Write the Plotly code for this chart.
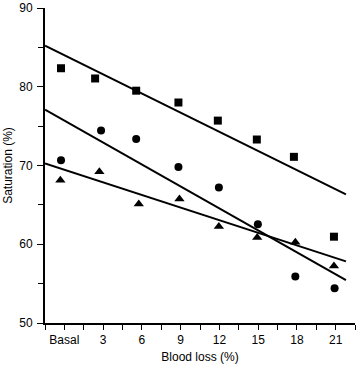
import plotly.graph_objects as go

# Category positions (blood loss %, Basal = 0)
tick_vals = [0, 3, 6, 9, 12, 15, 18, 21]
tick_text = ["Basal", "3", "6", "9", "12", "15", "18", "21"]

sq_x = [-0.26, 2.38, 5.56, 8.83, 11.88, 14.90, 17.77, 20.87]
sq_y = [82.35, 81.05, 79.5, 78.0, 75.7, 73.3, 71.1, 60.96]

ci_x = [-0.26, 2.84, 5.56, 8.83, 11.96, 14.98, 17.88, 20.92]
ci_y = [70.67, 74.45, 73.35, 69.8, 67.2, 62.55, 55.9, 54.4]

tr_x = [-0.31, 2.71, 5.76, 8.91, 11.96, 14.93, 17.88, 20.87]
tr_y = [68.14, 69.2, 65.1, 65.75, 62.26, 60.87, 60.24, 57.25]

# Regression lines: intercept at Basal and slope per % blood loss
fit_intercepts = [84.0, 75.7, 69.45]
fit_slopes = [-0.81, -0.929, -0.533]
fit_x_range = [-1.5, 21.8]

fig = go.Figure()

for b, m in zip(fit_intercepts, fit_slopes):
    fig.add_trace(go.Scatter(
        x=fit_x_range, y=[b + m * x for x in fit_x_range],
        mode="lines", line=dict(color="black", width=2),
        showlegend=False, hoverinfo="skip"))

fig.add_trace(go.Scatter(x=sq_x, y=sq_y, mode="markers",
                         marker=dict(symbol="square", size=8, color="black"),
                         showlegend=False))
fig.add_trace(go.Scatter(x=ci_x, y=ci_y, mode="markers",
                         marker=dict(symbol="circle", size=8, color="black"),
                         showlegend=False))
fig.add_trace(go.Scatter(x=tr_x, y=tr_y, mode="markers",
                         marker=dict(symbol="triangle-up", size=9, color="black"),
                         showlegend=False))

font = "Liberation Sans, Arial, sans-serif"
minor_x = [-1.5 + 3 * i for i in range(9)]

fig.update_layout(
    width=356, height=366,
    margin=dict(l=45, r=1, t=5, b=43),
    paper_bgcolor="white", plot_bgcolor="white",
    font=dict(family=font, size=12, color="black"),
    xaxis=dict(
        range=[-1.5, 22.5], tickvals=tick_vals, ticktext=tick_text,
        showgrid=False, zeroline=False, showline=True, linecolor="black", linewidth=2,
        ticks="outside", ticklen=5, tickwidth=1.2, tickcolor="black",
        minor=dict(tickvals=minor_x, ticks="outside", ticklen=5, tickwidth=1.2, tickcolor="black"),
        title=dict(text="Blood loss (%)", font=dict(size=12), standoff=6),
        tickfont=dict(size=12),
        ticklabeloverflow="allow",
    ),
    yaxis=dict(
        range=[50, 90], tickvals=[50, 60, 70, 80, 90],
        showgrid=False, zeroline=False, showline=True, linecolor="black", linewidth=2,
        ticks="outside", ticklen=6, tickwidth=1.2, tickcolor="black",
        minor=dict(dtick=5, ticks="outside", ticklen=5, tickwidth=1.2, tickcolor="black"),
        title=dict(text="Saturation (%)", font=dict(size=12), standoff=4),
        tickfont=dict(size=12),
        ticklabelstandoff=2,
        ticklabeloverflow="allow",
    ),
)

fig.write_html("out.html", config={"displayModeBar": False},
               post_script="document.body.style.margin='0';document.body.style.overflow='hidden';")
